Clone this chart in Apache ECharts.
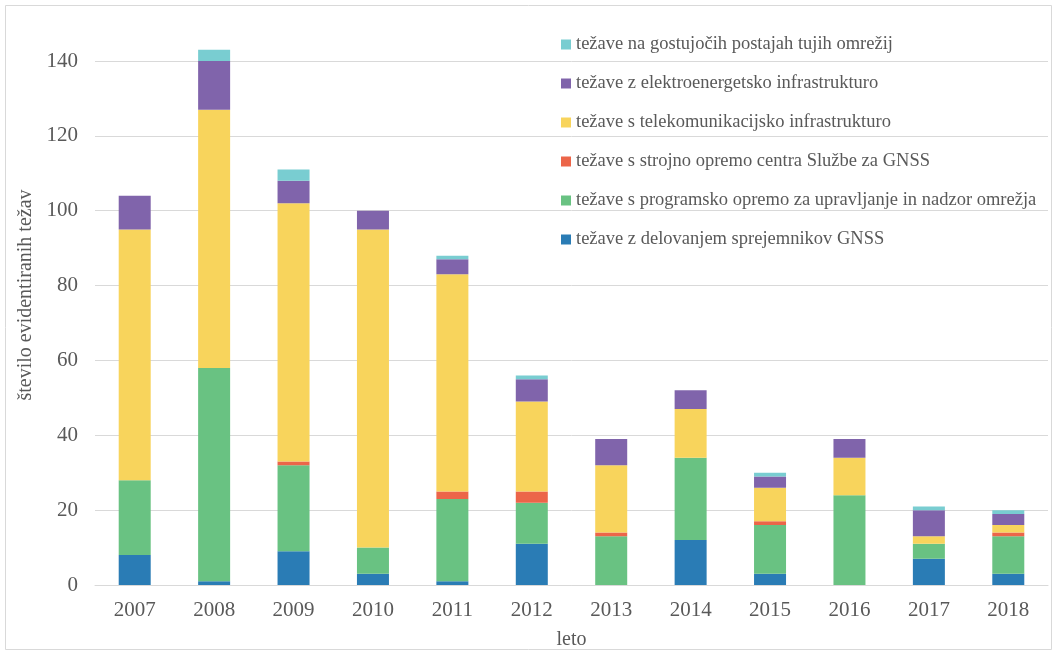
<!DOCTYPE html>
<html>
<head>
<meta charset="utf-8">
<script src="https://cdn.jsdelivr.net/npm/echarts@6/dist/echarts.min.js"></script>
<style>
html,body{margin:0;padding:0;background:#fff;}
#chart{width:1057px;height:654px;}
</style>
</head>
<body>
<div id="chart"></div>
<script>
var years = ['2007','2008','2009','2010','2011','2012','2013','2014','2015','2016','2017','2018'];
var yTicks = [0, 20, 40, 60, 80, 100, 120, 140];
var names = {
  receivers: 'težave z delovanjem sprejemnikov GNSS',
  software: 'težave s programsko opremo za upravljanje in nadzor omrežja',
  hardware: 'težave s strojno opremo centra Službe za GNSS',
  telecom: 'težave s telekomunikacijsko infrastrukturo',
  power: 'težave z elektroenergetsko infrastrukturo',
  foreign: 'težave na gostujočih postajah tujih omrežij'
};
var receivers = [8, 1, 9, 3, 1, 11, 0, 12, 3, 0, 7, 3];
var software  = [20, 57, 23, 7, 22, 11, 13, 22, 13, 24, 4, 10];
var hardware  = [0, 0, 1, 0, 2, 3, 1, 0, 1, 0, 0, 1];
var telecom   = [67, 69, 69, 85, 58, 24, 18, 13, 9, 10, 2, 2];
var power     = [9, 13, 6, 5, 4, 6, 7, 5, 3, 5, 7, 3];
var foreign   = [0, 3, 3, 0, 1, 1, 0, 0, 1, 0, 1, 1];

var colors = {
  receivers: '#2a7cb5',
  software: '#69c282',
  hardware: '#ec6549',
  telecom: '#f8d45c',
  power: '#8064ab',
  foreign: '#79cdd1'
};
var font = '"Liberation Serif", "DejaVu Serif", serif';
var textColor = '#595959';

function mk(key, data) {
  return {
    name: names[key],
    type: 'bar',
    stack: 'total',
    data: data,
    barWidth: 32,
    clip: false,
    itemStyle: { color: colors[key] },
    emphasis: { disabled: true }
  };
}

var chart = echarts.init(document.getElementById('chart'), null, {renderer: 'canvas'});
chart.setOption({
  animation: false,
  backgroundColor: '#fff',
  grid: { left: 95, right: 9, top: 61, bottom: 69, outerBoundsMode: 'none', containLabel: false },
  graphic: [{
    type: 'rect',
    shape: { x: 5.5, y: 5.5, width: 1046, height: 644 },
    style: { fill: 'none', stroke: '#d9d9d9', lineWidth: 1 },
    silent: true,
    z: -10
  }],
  legend: {
    orient: 'vertical',
    left: 556,
    top: 30,
    itemWidth: 10,
    itemHeight: 10,
    itemGap: 20,
    icon: 'rect',
    textStyle: { fontFamily: font, fontSize: 18.5, color: textColor },
    data: [names.foreign, names.power, names.telecom, names.hardware, names.software, names.receivers]
  },
  xAxis: {
    type: 'category',
    data: years,
    name: 'leto',
    nameLocation: 'middle',
    nameGap: 45,
    nameTextStyle: { fontFamily: font, fontSize: 20, color: textColor },
    axisLine: { lineStyle: { color: '#d9d9d9', width: 1 } },
    axisTick: { show: false },
    axisLabel: { fontFamily: font, fontSize: 21, color: textColor, margin: 15 }
  },
  yAxis: {
    type: 'value',
    min: yTicks[0],
    max: yTicks[yTicks.length - 1],
    interval: 20,
    name: 'število evidentiranih težav',
    nameLocation: 'middle',
    nameGap: 49,
    nameTextStyle: { fontFamily: font, fontSize: 20, color: textColor, padding: [0, 0, 0, 56] },
    axisLine: { show: false },
    axisTick: { show: false },
    splitLine: { lineStyle: { color: '#d9d9d9', width: 1 } },
    axisLabel: { fontFamily: font, fontSize: 21, color: textColor, margin: 17 }
  },
  series: [
    mk('receivers', receivers),
    mk('software', software),
    mk('hardware', hardware),
    mk('telecom', telecom),
    mk('power', power),
    mk('foreign', foreign)
  ]
});
</script>
</body>
</html>
